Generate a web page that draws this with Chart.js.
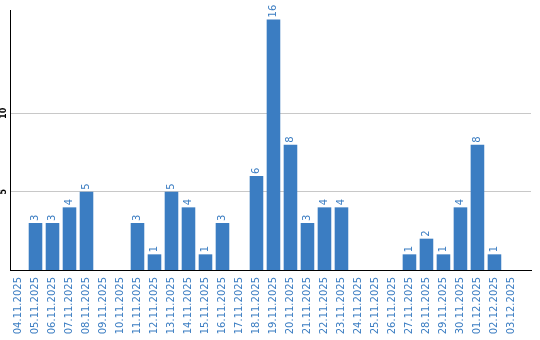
<!DOCTYPE html>
<html>
<head>
<meta charset="utf-8">
<script src="https://cdn.jsdelivr.net/npm/chart.js@4.4.1/dist/chart.umd.min.js"></script>
<style>
  html, body { margin: 0; padding: 0; background: #fff; }
  #wrap { width: 540px; height: 340px; }
</style>
</head>
<body>
<div id="wrap"><canvas id="chart" width="540" height="340"></canvas></div>
<script>
// Data
const days = [
  '04.11.2025', '05.11.2025', '06.11.2025', '07.11.2025', '08.11.2025',
  '09.11.2025', '10.11.2025', '11.11.2025', '12.11.2025', '13.11.2025',
  '14.11.2025', '15.11.2025', '16.11.2025', '17.11.2025', '18.11.2025',
  '19.11.2025', '20.11.2025', '21.11.2025', '22.11.2025', '23.11.2025',
  '24.11.2025', '25.11.2025', '26.11.2025', '27.11.2025', '28.11.2025',
  '29.11.2025', '30.11.2025', '01.12.2025', '02.12.2025', '03.12.2025'
];
const counts = [0, 3, 3, 4, 5, 0, 0, 3, 1, 5, 4, 1, 3, 0, 6, 16, 8, 3, 4, 4, 0, 0, 0, 1, 2, 1, 4, 8, 1, 0];
const yTicks = [5, 10];

const blue = '#3b7dc2';

// value labels above bars, rotated like the axis labels
const valueLabels = {
  id: 'valueLabels',
  afterDatasetsDraw(chart) {
    const ctx = chart.ctx;
    const meta = chart.getDatasetMeta(0);
    ctx.save();
    ctx.fillStyle = blue;
    ctx.font = '10px "DejaVu Sans"';
    ctx.textAlign = 'left';
    ctx.textBaseline = 'middle';
    meta.data.forEach((bar, i) => {
      if (!counts[i]) return;
      ctx.save();
      ctx.translate(bar.x, bar.y - 2);
      ctx.rotate(-Math.PI / 2);
      ctx.fillText(String(counts[i]), 0, 0);
      ctx.restore();
    });
    ctx.restore();
  }
};

new Chart(document.getElementById('chart'), {
  type: 'bar',
  data: {
    datasets: [{
      data: counts.map((v, i) => ({ x: i, y: v })),
      backgroundColor: blue,
      barPercentage: 0.8,
      categoryPercentage: 1
    }]
  },
  options: {
    responsive: false,
    animation: false,
    layout: { padding: { top: 10, right: 9, left: 0, bottom: 0 } },
    plugins: {
      legend: { display: false },
      tooltip: { enabled: false }
    },
    scales: {
      x: {
        type: 'linear',
        offset: false,
        min: -0.5,
        max: 30.15,
        afterBuildTicks: s => { s.ticks = days.map((d, i) => ({ value: i })); },
        afterFit: s => { s.height = 70; },
        grid: { display: false, drawTicks: false },
        border: { display: true, color: '#000', width: 1 },
        ticks: {
          autoSkip: false,
          minRotation: 90,
          maxRotation: 90,
          padding: 7,
          color: blue,
          font: { family: 'DejaVu Sans', size: 10 },
          callback: v => days[v]
        }
      },
      y: {
        min: 0,
        max: 16.6,
        afterBuildTicks: s => { s.ticks = yTicks.map(v => ({ value: v })); },
        afterFit: s => { s.width = 10; },
        grid: { color: '#c8c8c8', drawTicks: false },
        border: { display: true, color: '#000', width: 1 },
        ticks: {
          minRotation: 90,
          maxRotation: 90,
          crossAlign: 'center',
          padding: 1,
          color: '#000',
          font: { family: 'DejaVu Sans', size: 8, weight: 'bold' }
        }
      }
    }
  },
  plugins: [valueLabels]
});
</script>
</body>
</html>
